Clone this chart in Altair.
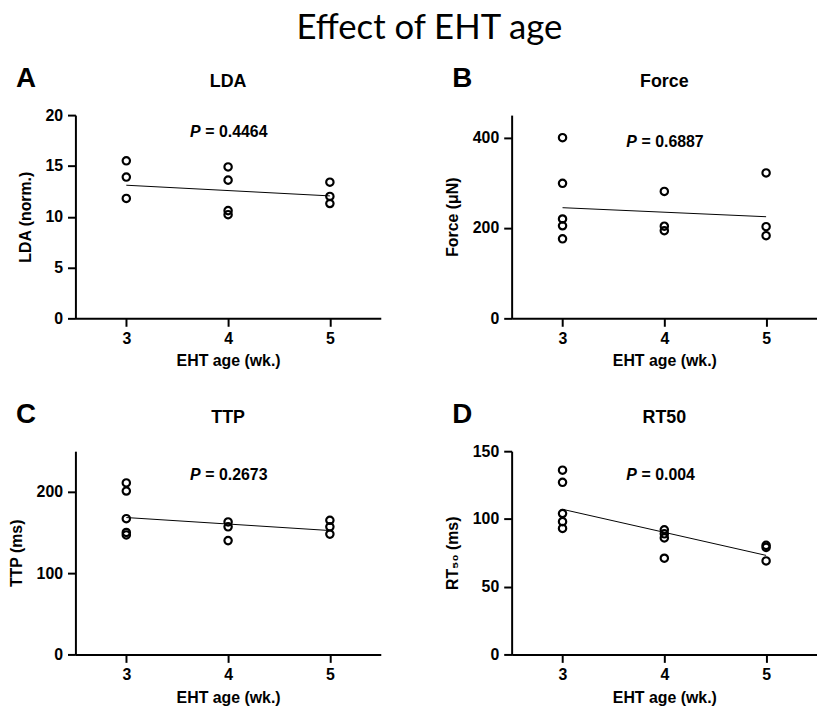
import altair as alt
import pandas as pd

# ---- data ----
lda_age = [3, 3, 3, 4, 4, 4, 4, 5, 5, 5]
lda_val = [15.5, 13.9, 11.8, 14.9, 13.6, 10.6, 10.2, 13.4, 12.0, 11.3]
lda_fit = [13.1, 12.05]

force_age = [3, 3, 3, 3, 3, 4, 4, 4, 5, 5, 5]
force_val = [400, 299, 220, 205, 176, 281, 204, 194, 322, 203, 183]
force_fit = [245, 225]

ttp_age = [3, 3, 3, 3, 3, 4, 4, 4, 5, 5, 5]
ttp_val = [211, 201, 167, 150, 147, 163, 157, 140, 165, 157, 148]
ttp_fit = [168.4, 152.4]

rt50_age = [3, 3, 3, 3, 3, 4, 4, 4, 4, 5, 5, 5]
rt50_val = [136, 127, 104, 98, 93, 92, 89, 86, 71, 80.5, 79, 69]
rt50_fit = [107.1, 73.1]

fit_age = [3, 5]
age_ticks = [3, 4, 5]

W = 308
H = 205
FONT = "Liberation Sans"


def txt(text, x, y, size, align="left", weight="bold", style="normal", font=FONT):
    return alt.Chart(pd.DataFrame({"t": [text]})).mark_text(
        align=align, baseline="alphabetic", fontSize=size, fontWeight=weight,
        fontStyle=style, font=font, color="black"
    ).encode(text="t:N", x=alt.value(x), y=alt.value(y))


def panel(ages, vals, fit, ytitle, ydomain, yticks, letter, name, pval, p_y, extra=None):
    pts = pd.DataFrame({"age": ages, "v": vals})
    fdf = pd.DataFrame({"age": fit_age, "v": fit})
    xenc = alt.X("age:Q",
                 scale=alt.Scale(domain=[2.5, 5.5], nice=False, zero=False),
                 axis=alt.Axis(values=age_ticks, format="d", title="EHT age (wk.)",
                               labelPadding=4, titlePadding=7))
    yenc = alt.Y("v:Q",
                 scale=alt.Scale(domain=ydomain, nice=False),
                 axis=alt.Axis(values=yticks, title=ytitle, labelPadding=5, titlePadding=12))
    points = alt.Chart(pts).mark_point(
        shape="circle", filled=False, color="black", strokeWidth=2.2, size=55, opacity=1
    ).encode(x=xenc, y=yenc)
    line = alt.Chart(fdf).mark_line(color="black", strokeWidth=1).encode(x=xenc, y=yenc)
    layers = [line, points,
              txt(letter, -60, -28, 28),
              txt(name, W / 2, -28, 18, align="center"),
              txt("P", 115.5, p_y, 16, style="italic"),
              txt("= " + pval, 131, p_y, 16)]
    if extra is not None:
        layers.append(extra)
    return alt.layer(*layers).properties(width=W, height=H)


title = txt("Effect of EHT age", 357, -77, 35, align="center", weight="normal", font="Lato")

a = panel(lda_age, lda_val, lda_fit, "LDA (norm.)", [0, 20], [0, 5, 10, 15, 20],
          "A", "LDA", "0.4464", 22, extra=title)
b = panel(force_age, force_val, force_fit, "Force (μN)", [0, 450], [0, 200, 400],
          "B", "Force", "0.6887", 32)
c = panel(ttp_age, ttp_val, ttp_fit, "TTP (ms)", [0, 250], [0, 100, 200],
          "C", "TTP", "0.2673", 29)
d = panel(rt50_age, rt50_val, rt50_fit, "RT₅₀ (ms)", [0, 150], [0, 50, 100, 150],
          "D", "RT50", "0.004", 29)

chart = alt.concat(
    a, b, c, d, columns=2,
    spacing=alt.RowColnumber(row=134, column=132), bounds="flush",
).properties(padding=0).configure_view(stroke=None).configure_axis(
    grid=False,
    domainColor="black", domainWidth=2,
    tickColor="black", tickWidth=2, tickSize=8,
    labelFont=FONT, labelFontSize=16, labelFontWeight="bold", labelColor="black",
    titleFont=FONT, titleFontSize=16, titleFontWeight="bold", titleColor="black",
)

chart.save("out.html", embed_options={"renderer": "svg", "actions": False})
